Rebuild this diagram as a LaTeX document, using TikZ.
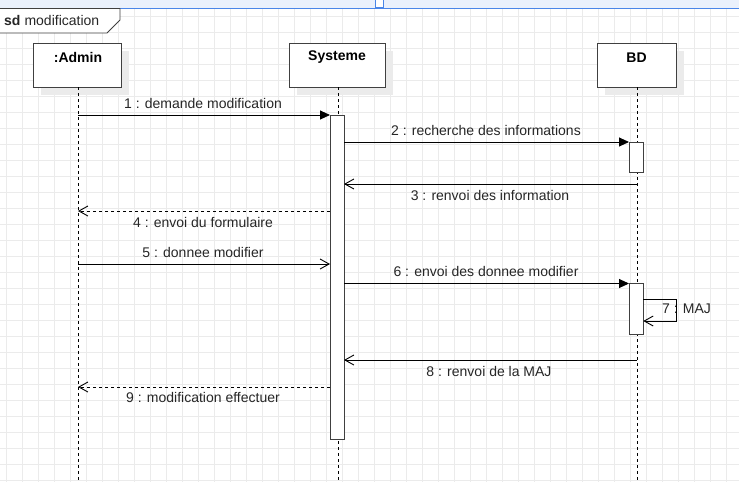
\documentclass[tikz,border=0pt]{standalone}
\usepackage{fontspec}
\setmainfont{Liberation Sans}
\usetikzlibrary{arrows.meta}
\definecolor{gridc}{HTML}{EBEBEB}
\definecolor{shadc}{HTML}{EBEBEB}
\definecolor{txtc}{HTML}{262626}
\definecolor{bandc}{HTML}{EAF1FC}
\definecolor{bluec}{HTML}{4A86E8}
\tikzset{
  lifebox/.style={draw=black!75, line width=0.9pt, fill=white},
  shadowbox/.style={fill=shadc, draw=none},
  lifeline/.style={line width=0.9pt, dash pattern=on 3pt off 3pt},
  actbox/.style={draw=black!75, line width=0.9pt, fill=white},
  syncmsg/.style={line width=0.9pt, -{Triangle[length=10pt,width=9pt]}},
  retmsg/.style={line width=0.9pt, -{Straight Barb[length=9pt,width=10pt,line width=0.9pt]}},
  dashmsg/.style={line width=0.9pt, dash pattern=on 3pt off 3pt, -{Straight Barb[length=9pt,width=10pt,line width=0.9pt]}},
  lbl/.style={font=\fontsize{14}{16}\selectfont, text=txtc, inner sep=0pt},
  hdr/.style={font=\fontsize{14}{16}\selectfont\bfseries, text=black, inner sep=0pt},
}
\begin{document}
\begin{tikzpicture}[x=1pt,y=-1pt]
\useasboundingbox (0,0) rectangle (739,482);
\fill[white] (0,0) rectangle (739,482);
% grid
\foreach \gx in {6.7,22.7,...,739} \draw[gridc, line width=0.8pt] (\gx,0) -- (\gx,482);
\foreach \gy in {16.3,32.3,...,482} \draw[gridc, line width=0.8pt] (0,\gy) -- (739,\gy);
% top band
\fill[bandc] (0,0) rectangle (739,7.5);
\draw[bluec, line width=1pt] (0,8) -- (739,8);
\draw[bluec, line width=1pt, fill=white] (375.5,-1) rectangle (383,7.5);
% frame tab
\draw[black!75, line width=0.9pt, fill=white] (-1,8.5) -- (120,8.5) -- (120,20) -- (107,33) -- (-1,33);
\node[anchor=west, inner sep=0pt, font=\fontsize{14}{16}\selectfont, text=txtc] (frame) at (4,20.5) {\textbf{sd}\hspace{4pt}modification};
% lifeline heads
\fill[shadowbox] (41,51) rectangle (129,95);
\fill[shadowbox] (297,51) rectangle (393,95);
\fill[shadowbox] (605,51) rectangle (684,95);
\draw[lifebox] (33.5,43.5) rectangle (121,87);
\draw[lifebox] (289,43.5) rectangle (385,87);
\draw[lifebox] (597,43.5) rectangle (676,87);
\node[hdr] (admin) at (78,57.5) {:Admin};
\node[hdr] (sys) at (337,57.5) {Systeme};
\node[hdr] (bd) at (636.5,57.5) {BD};
% lifelines
\coordinate (a0) at (78,87); \coordinate (a1) at (78,482);
\coordinate (s0) at (338,87); \coordinate (s1) at (338,482);
\coordinate (b0) at (637,87); \coordinate (b1) at (637,482);
\draw[lifeline] (a0) -- (a1);
\draw[lifeline] (s0) -- (s1);
\draw[lifeline] (b0) -- (b1);
% activations
\draw[actbox] (330,115) rectangle (344,439);
\draw[actbox] (629,142) rectangle (643.3,172.3);
\draw[actbox] (629,283.5) rectangle (643.3,334);
% coordinates for messages
\coordinate (m1a) at (78,115);   \coordinate (m1b) at (330,115);
\coordinate (m2a) at (344,142);  \coordinate (m2b) at (629,142);
\coordinate (m3a) at (637,184);  \coordinate (m3b) at (344,184);
\coordinate (m4a) at (330,211);  \coordinate (m4b) at (78,211);
\coordinate (m5a) at (78,264);   \coordinate (m5b) at (330,264);
\coordinate (m6a) at (344,283.5);\coordinate (m6b) at (629,283.5);
\coordinate (m7a) at (643.3,299.5); \coordinate (m7c) at (676.5,299.5);
\coordinate (m7d) at (676.5,321); \coordinate (m7b) at (643.3,321);
\coordinate (m8a) at (637,360);  \coordinate (m8b) at (344,360);
\coordinate (m9a) at (330,387);  \coordinate (m9b) at (78,387);
% messages
\draw[syncmsg] (m1a) -- (m1b);
\node[lbl] (l1) at (203,103) {1 : demande modification};
\draw[syncmsg] (m2a) -- (m2b);
\node[lbl] (l2) at (486,130) {2 : recherche des informations};
\draw[retmsg] (m3a) -- (m3b);
\node[lbl] (l3) at (490,195.5) {3 : renvoi des information};
\draw[dashmsg] (m4a) -- (m4b);
\node[lbl] (l4) at (203,222) {4 : envoi du formulaire};
\draw[retmsg] (m5a) -- (m5b);
\node[lbl] (l5) at (203,252) {5 : donnee modifier};
\draw[syncmsg] (m6a) -- (m6b);
\node[lbl] (l6) at (486,271) {6 : envoi des donnee modifier};
\node[lbl, anchor=west] (l7) at (662,309) {7 : MAJ};
\draw[retmsg] (m7a) -- (m7c) -- (m7d) -- (m7b);
\draw[retmsg] (m8a) -- (m8b);
\node[lbl] (l8) at (489,371.5) {8 : renvoi de la MAJ};
\draw[dashmsg] (m9a) -- (m9b);
\node[lbl] (l9) at (203,397.5) {9 : modification effectuer};
\end{tikzpicture}
\end{document}
